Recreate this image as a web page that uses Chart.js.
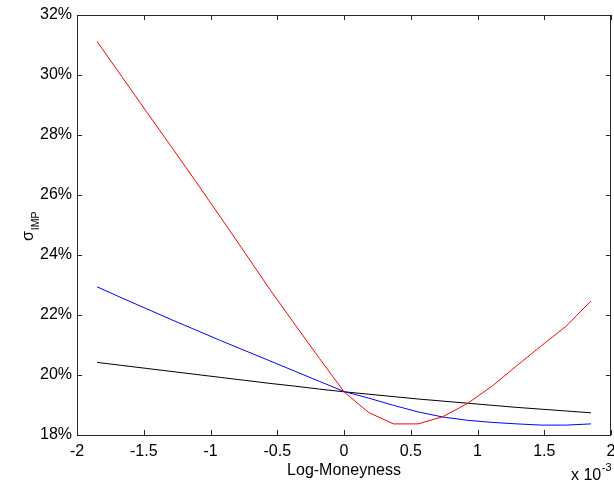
<!DOCTYPE html>
<html>
<head>
<meta charset="utf-8">
<title>Implied volatility smile</title>
<script src="https://cdn.jsdelivr.net/npm/chart.js@4.4.1/dist/chart.umd.min.js"></script>
<style>
  html, body { margin: 0; padding: 0; background: #fff; }
  canvas { display: block; }
</style>
</head>
<body>
<canvas id="smileChart" width="614" height="487"></canvas>
<script>
// log-moneyness grid, in units of 1e-3
const moneyness = [-1.85, -1.665, -1.48, -1.295, -1.11, -0.925, -0.74, -0.555, -0.37, -0.185, 0,
  0.185, 0.37, 0.555, 0.74, 0.925, 1.11, 1.295, 1.48, 1.665, 1.85];

// implied vol in percent
const volRed = [31.12, 29.95, 28.78, 27.62, 26.45, 25.26, 24.06, 22.85, 21.70, 20.56, 19.44,
  18.75, 18.37, 18.37, 18.61, 19.05, 19.63, 20.31, 20.98, 21.63, 22.47];
const volBlue = [22.94, 22.57, 22.21, 21.85, 21.50, 21.15, 20.81, 20.47, 20.13, 19.79, 19.45,
  19.23, 18.99, 18.77, 18.60, 18.49, 18.42, 18.37, 18.33, 18.33, 18.37];
const volBlack = [20.42, 20.32, 20.22, 20.12, 20.02, 19.92, 19.82, 19.72, 19.63, 19.53, 19.44,
  19.36, 19.28, 19.20, 19.13, 19.06, 18.99, 18.92, 18.86, 18.80, 18.74];

const xTicks = [-2, -1.5, -1, -0.5, 0, 0.5, 1, 1.5, 2];
const yTicks = [18, 20, 22, 24, 26, 28, 30, 32];

const axisColor = '#262626';
const font = 'Arial, "Liberation Sans", sans-serif';

function toPoints(ys) {
  return moneyness.map((x, i) => ({ x: x, y: ys[i] }));
}

// box around the plot with inward ticks on all four sides, plus axis titles
const boxPlugin = {
  id: 'boxPlugin',
  afterDraw(chart) {
    const ctx = chart.ctx;
    const a = chart.chartArea;
    const xs = chart.scales.x;
    const ys = chart.scales.y;
    const len = 5;
    ctx.save();
    ctx.strokeStyle = axisColor;
    ctx.lineWidth = 1;
    ctx.beginPath();
    ctx.rect(Math.round(a.left) + 0.5, Math.round(a.top) + 0.5,
      Math.round(a.right - a.left) - 1, Math.round(a.bottom - a.top));
    xTicks.forEach(v => {
      const px = Math.round(xs.getPixelForValue(v)) + 0.5;
      ctx.moveTo(px, a.bottom); ctx.lineTo(px, a.bottom - len);
      ctx.moveTo(px, a.top); ctx.lineTo(px, a.top + len);
    });
    yTicks.forEach(v => {
      const py = Math.round(ys.getPixelForValue(v)) + 0.5;
      ctx.moveTo(a.left, py); ctx.lineTo(a.left + len, py);
      ctx.moveTo(a.right, py); ctx.lineTo(a.right - len, py);
    });
    ctx.stroke();

    ctx.fillStyle = '#000';
    ctx.textBaseline = 'alphabetic';

    // x title
    ctx.font = '16px ' + font;
    ctx.textAlign = 'center';
    ctx.fillText('Log-Moneyness', (a.left + a.right) / 2, 474.5);

    // exponent note
    ctx.textAlign = 'left';
    ctx.fillText('x 10', 571, 480);
    const w = ctx.measureText('x 10').width;
    ctx.font = '11px ' + font;
    ctx.fillText('-3', 571 + w + 0.5, 471);

    // y title: sigma with IMP subscript, rotated
    ctx.translate(33, 241);
    ctx.rotate(-Math.PI / 2);
    ctx.font = '16px ' + font;
    ctx.fillText('σ', 0, 0);
    const sw = ctx.measureText('σ').width;
    ctx.font = '10.5px ' + font;
    ctx.fillText('IMP', sw + 1, 5.5);
    ctx.restore();
  }
};

const ctx = document.getElementById('smileChart').getContext('2d');
new Chart(ctx, {
  type: 'line',
  data: {
    datasets: [
      { data: toPoints(volRed), borderColor: '#ff0000' },
      { data: toPoints(volBlue), borderColor: '#0000ff' },
      { data: toPoints(volBlack), borderColor: '#000000' }
    ]
  },
  options: {
    responsive: false,
    animation: false,
    events: [],
    layout: { padding: { top: 15, right: 3, left: 0, bottom: 0 } },
    elements: {
      line: { borderWidth: 1, tension: 0, fill: false },
      point: { radius: 0 }
    },
    plugins: {
      legend: { display: false },
      tooltip: { enabled: false }
    },
    scales: {
      x: {
        type: 'linear',
        min: -2,
        max: 2,
        afterBuildTicks: s => { s.ticks = xTicks.map(v => ({ value: v })); },
        afterFit: s => { s.height = 52; s.paddingLeft = 0; s.paddingRight = 0; },
        grid: { display: false, drawTicks: false },
        border: { display: false },
        ticks: {
          padding: 7,
          color: '#000',
          font: { family: font, size: 16 },
          maxRotation: 0,
          autoSkip: false,
          callback: v => String(v)
        }
      },
      y: {
        type: 'linear',
        min: 18,
        max: 32,
        afterBuildTicks: s => { s.ticks = yTicks.map(v => ({ value: v })); },
        afterFit: s => { s.width = 77; s.paddingTop = 0; s.paddingBottom = 0; },
        grid: { display: false, drawTicks: false },
        border: { display: false },
        ticks: {
          padding: 5,
          color: '#000',
          font: { family: font, size: 16 },
          autoSkip: false,
          callback: v => v + '%'
        }
      }
    }
  },
  plugins: [boxPlugin]
});
</script>
</body>
</html>
